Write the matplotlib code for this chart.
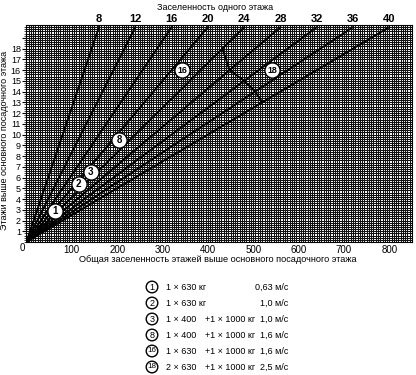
import numpy as np
import matplotlib as mpl
mpl.use("Agg")
import matplotlib.pyplot as plt
from matplotlib.patches import Circle

plt.rcParams['font.family'] = ['Liberation Sans', 'DejaVu Sans']

# data
per_floor = [8, 12, 16, 20, 24, 28, 32, 36, 40]      # occupancy of one floor (top scale)
top_floor = 20
x_ticks = [100, 200, 300, 400, 500, 600, 700, 800]
y_ticks = list(range(1, 19))

# boundary line of zone 18 (floor where it meets each occupancy line)
zz_per_floor = [24, 28, 32, 36, 40]
zz_floors = [18, 16, 15, 14, 13]

# numbered markers on the chart
mark_ids = ['1', '2', '3', '8', '16', '18']
mark_x = [63, 115, 142, 205, 343, 542]
mark_y = [2.9, 5.4, 6.5, 9.5, 16.0, 16.0]

# legend rows
legend_cars = ['1 × 630 кг', '1 × 630 кг', '1 × 400', '1 × 400', '1 × 630', '2 × 630']
legend_extra = ['', '', '+1 × 1000 кг', '+1 × 1000 кг', '+1 × 1000 кг', '+1 × 1000 кг']
legend_speed = ['0,63 м/с', '1,0 м/с', '1,0 м/с', '1,6 м/с', '1,6 м/с', '2,5 м/с']

W, H = 416, 375
fig = plt.figure(figsize=(W / 100, H / 100), dpi=100)

# main chart
l, r, t, b = 26.4, 412, 25, 242
ax = fig.add_axes([l / W, 1 - b / H, (r - l) / W, (b - t) / H])
ax.set_xlim(0, 850)
ax.set_ylim(0, 20.2)

# dense millimetre-like grid
for gx in np.arange(5, 850, 5):
    ax.axvline(gx, color='#111111', lw=0.75, zorder=1)
for gy in np.arange(0.2, 20.2, 0.2):
    ax.axhline(gy, color='#111111', lw=0.75, zorder=1)

# occupancy lines from the origin
for n in per_floor:
    ax.plot([0, n * top_floor], [0, top_floor], color='black', lw=1.4, zorder=3)

# zone 18 boundary
zz_x = [n * f for n, f in zip(zz_per_floor, zz_floors)]
ax.plot(zz_x, zz_floors, color='black', lw=1.4, zorder=3)

# numbered markers
ax.scatter(mark_x, mark_y, s=120, facecolor='white', edgecolor='black',
           linewidth=1.0, zorder=4)
for lab, mx, my in zip(mark_ids, mark_x, mark_y):
    ax.text(mx, my, lab, ha='center', va='center', fontsize=7 if len(lab) == 1 else 6.3,
            fontweight='bold', zorder=5)

ax.set_xticks(x_ticks)
ax.set_xticklabels([str(v) for v in x_ticks], fontsize=7)
ax.tick_params(axis='x', length=0, pad=2)
ax.set_yticks(y_ticks + [19])
ax.set_yticklabels([str(v) for v in y_ticks] + [''], fontsize=6.5)
ax.set_yticks(np.arange(0, 20.2, 0.2), minor=True)
ax.tick_params(axis='y', length=3, width=0.8, pad=1)
ax.tick_params(axis='y', which='minor', length=1.5, width=0.5)
for s in ax.spines.values():
    s.set_linewidth(0.8)

# top scale: occupancy of one floor
top = ax.secondary_xaxis('top')
top.set_xticks([n * top_floor for n in per_floor])
top.set_xticklabels([str(n) for n in per_floor], fontsize=8, fontweight='bold')
top.tick_params(length=0, pad=1)
top.spines['top'].set_visible(False)

fig.text(215 / W, 1 - 7 / H, 'Заселенность одного этажа', ha='center',
         va='center', fontsize=6.5)
fig.text(218 / W, 1 - 259 / H,
         'Общая заселенность этажей выше основного посадочного этажа',
         ha='center', va='center', fontsize=6.6)
fig.text(5 / W, 1 - 140 / H, 'Этажи выше основного посадочного этажа',
         ha='center', va='center', rotation=90, fontsize=6.5)
fig.text(22 / W, 1 - 248 / H, '0', ha='center', va='center', fontsize=7)

# legend drawn in pixel coordinates
lg = fig.add_axes([0, 0, 1, 1])
lg.set_xlim(0, W)
lg.set_ylim(H, 0)
lg.axis('off')
for i, lab in enumerate(mark_ids):
    yy = 287 + 16 * i
    lg.add_patch(Circle((152, yy), 5.8, facecolor='white', edgecolor='black', lw=1.0))
    lg.text(152, yy, lab, ha='center', va='center', fontsize=6.5 if len(lab) == 1 else 5.8)
    lg.text(166, yy, legend_cars[i], ha='left', va='center', fontsize=6.5)
    lg.text(205, yy, legend_extra[i], ha='left', va='center', fontsize=6.5)
    lg.text(288, yy, legend_speed[i], ha='right', va='center', fontsize=6.5)

fig.savefig('out.png', dpi=100)
